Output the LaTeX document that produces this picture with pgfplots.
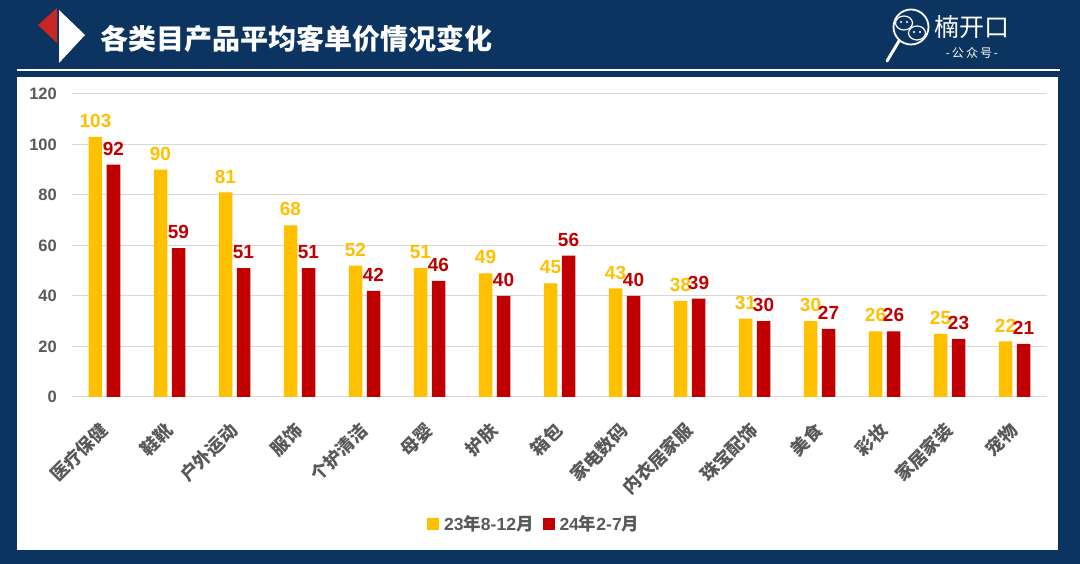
\documentclass[border=0pt]{standalone}
\usepackage{fontspec}
\setmainfont{Liberation Sans}
\newfontfamily\cjk{Noto Sans CJK SC}
\usepackage{pgfplots}
\pgfplotsset{compat=1.18}
\usepackage{pgfplotstable}
\definecolor{bgblue}{HTML}{0C3461}
\definecolor{cyel}{HTML}{FFC000}
\definecolor{cred}{HTML}{C00000}
\definecolor{tgray}{HTML}{595959}
\definecolor{ggray}{HTML}{D9D9D9}
\pgfplotstableread{
x a b
0 103 92
1 90 59
2 81 51
3 68 51
4 52 42
5 51 46
6 49 40
7 45 56
8 43 40
9 38 39
10 31 30
11 30 27
12 26 26
13 25 23
14 22 21
}\datatable
\begin{document}
\begin{tikzpicture}[x=1pt,y=1pt]
\fill[bgblue] (0,0) rectangle (1080,564);
% title line and panel
\draw[white, line width=2pt] (17,494) -- (1060,494);
\fill[white] (17,14) rectangle (1058,487);
% icon
\fill[cred!85!white] (57,556) -- (38,539) -- (57,521) -- cycle;
\fill[white] (59,554) -- (59,501) -- (85,529) -- cycle;
\node[anchor=west, text=white, inner sep=0pt, font=\cjk\bfseries\fontsize{28}{28}\selectfont] at (100,525) {各类目产品平均客单价情况变化};
% logo
\draw[white, line width=1.8pt] (911,537) circle (17.5);
\draw[white, line width=3pt, line cap=round] (899,523) -- (887,503);
\draw[white, line width=1.2pt] (904,541) ellipse (8.5 and 7);
\fill[bgblue] (917,531) ellipse (9 and 7.5);
\draw[white, line width=1.2pt] (917,531) ellipse (8.5 and 7);
\fill[white] (901,542) circle (1.2) (907,542) circle (1.2) (914,532) circle (1.2) (920,532) circle (1.2);
\node[anchor=west, text=white, inner sep=0pt, font=\cjk\fontsize{25}{25}\selectfont] at (934,537) {楠开口};
\node[text=white, inner sep=0pt, font=\cjk\fontsize{12}{12}\selectfont] at (972,511) {-\,公\,众\,号\,-};
\begin{axis}[
  at={(72pt,167pt)}, anchor=south west,
  scale only axis, width=975pt, height=303pt,
  ybar=4.5pt, bar width=13.5pt,
  xmin=-0.5, xmax=14.5, ymin=0, ymax=120,
  ytick={0,20,...,120},
  xtick=data,
  xticklabels={医疗保健,鞋靴,户外运动,服饰,个护清洁,母婴,护肤,箱包,家电数码,内衣居家服,珠宝配饰,美食,彩妆,家居家装,宠物},
  axis line style={draw=none},
  major tick length=0pt,
  ymajorgrids, grid style={ggray, line width=1pt},
  /pgf/number format/assume math mode=true,
  yticklabel style={font=\bfseries\fontsize{16.5}{16.5}\selectfont, text=tgray, inner sep=0pt, xshift=-15pt},
  xticklabel style={font=\cjk\bfseries\fontsize{18}{18}\selectfont, text=tgray, rotate=45, anchor=east, inner sep=0pt},
  xticklabel shift=30pt,
  nodes near coords,
  nodes near coords style={font=\bfseries\fontsize{19}{19}\selectfont, anchor=south, inner sep=0pt, yshift=9pt},
  legend style={at={(0.474,-0.419)}, anchor=center, draw=none, fill=none, legend columns=2,
    font=\bfseries\fontsize{17.5}{17.5}\selectfont, text=tgray,
    /tikz/every odd column/.append style={column sep=3pt},
    /tikz/every even column/.append style={column sep=7pt}},
  legend image code/.code={\path[#1, draw=none] (0pt,-6pt) rectangle (12pt,6pt);},
]
\addplot[fill=cyel, draw=none, nodes near coords style={text=cyel}] table[x=x,y=a]{\datatable};
\addplot[fill=cred, draw=none, nodes near coords style={text=cred}] table[x=x,y=b]{\datatable};
\legend{23{\cjk\bfseries 年}8-12{\cjk\bfseries 月},24{\cjk\bfseries 年}2-7{\cjk\bfseries 月}}
\end{axis}
\pgfresetboundingbox
\path (0,0) rectangle (1080,564);
\end{tikzpicture}
\end{document}
